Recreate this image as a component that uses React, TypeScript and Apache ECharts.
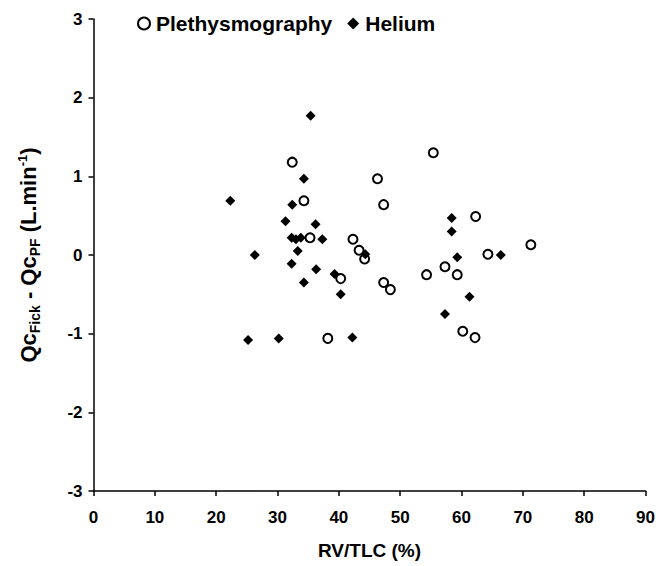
import React, { useEffect, useRef } from "react";
import * as echarts from "echarts";

const plethX = [32.4, 34.3, 35.3, 38.2, 40.3, 42.3, 43.3, 44.2, 46.3, 47.3, 47.3, 48.4, 54.3, 55.4, 57.3, 59.3, 60.2, 62.2, 62.3, 64.3, 71.3];
const plethY = [1.18, 0.69, 0.22, -1.06, -0.30, 0.20, 0.06, -0.05, 0.97, 0.64, -0.35, -0.44, -0.25, 1.30, -0.15, -0.25, -0.97, -1.05, 0.49, 0.01, 0.13];

const heliumX = [22.3, 25.2, 26.3, 30.2, 31.3, 32.4, 32.3, 33.0, 33.8, 33.3, 32.3, 34.3, 34.3, 35.4, 36.2, 36.3, 37.3, 39.3, 40.3, 42.2, 44.3, 57.3, 58.4, 58.4, 59.3, 61.3, 66.4];
const heliumY = [0.69, -1.08, 0.0, -1.06, 0.43, 0.64, 0.22, 0.20, 0.22, 0.05, -0.11, 0.97, -0.35, 1.77, 0.39, -0.18, 0.20, -0.24, -0.50, -1.05, 0.01, -0.75, 0.47, 0.30, -0.03, -0.53, 0.0];

const xTicks = { min: 0, max: 90, interval: 10 };
const yTicks = { min: -3, max: 3, interval: 1 };

const font = "'Liberation Sans', Arial, sans-serif";

export default function App() {
  const ref = useRef<HTMLDivElement>(null);
  useEffect(() => {
    if (!ref.current) return;
    const chart = echarts.init(ref.current, undefined, { renderer: "svg" });
    const pleth = plethX.map((x, i) => [x, plethY[i]]);
    const helium = heliumX.map((x, i) => [x, heliumY[i]]);
    chart.setOption({
      animation: false,
      backgroundColor: "#ffffff",
      textStyle: { fontFamily: font },
      grid: { left: 93.5, right: 9.5, top: 19, bottom: 75 },
      legend: {
        top: 8,
        left: 132,
        itemGap: 15,
        itemWidth: 12,
        itemHeight: 12,
        textStyle: { fontFamily: font, fontWeight: "bold", fontSize: 21, color: "#000", padding: [0, 0, 0, 1] },
        data: [
          { name: "Plethysmography", icon: "circle" },
          { name: "Helium", icon: "diamond" },
        ],
      },
      xAxis: {
        type: "value",
        min: xTicks.min,
        max: xTicks.max,
        interval: xTicks.interval,
        name: "RV/TLC (%)",
        nameLocation: "middle",
        nameGap: 50,
        nameTextStyle: { fontFamily: font, fontWeight: "bold", fontSize: 19, color: "#000" },
        axisLine: { onZero: false, lineStyle: { color: "#000", width: 1.5 } },
        axisTick: { show: true, length: 5, lineStyle: { color: "#000", width: 1.5 } },
        axisLabel: { fontFamily: font, fontWeight: "bold", fontSize: 17, color: "#000", margin: 18 },
        splitLine: { show: false },
      },
      yAxis: {
        type: "value",
        min: yTicks.min,
        max: yTicks.max,
        interval: yTicks.interval,
        name: "{b|Qc}{sub|Fick}{b| - Qc}{sub|PF}{b| (L.min}{sup|-1}{b|)}",
        nameLocation: "middle",
        nameGap: 52,
        nameTextStyle: {
          color: "#000",
          rich: {
            b: { fontFamily: font, fontWeight: "bold", fontSize: 22, color: "#000", lineHeight: 26, verticalAlign: "middle" },
            sub: { fontFamily: font, fontWeight: "bold", fontSize: 14, color: "#000", lineHeight: 26, verticalAlign: "bottom" },
            sup: { fontFamily: font, fontWeight: "bold", fontSize: 13, color: "#000", lineHeight: 26, verticalAlign: "top" },
          },
        },
        axisLine: { onZero: false, lineStyle: { color: "#000", width: 1.5 } },
        axisTick: { show: true, length: 5, lineStyle: { color: "#000", width: 1.5 } },
        axisLabel: { fontFamily: font, fontWeight: "bold", fontSize: 17, color: "#000", margin: 11 },
        splitLine: { show: false },
      },
      series: [
        {
          name: "Plethysmography",
          type: "scatter",
          symbol: "circle",
          symbolSize: 9,
          itemStyle: { color: "#fff", borderColor: "#000", borderWidth: 2, opacity: 1 },
          data: pleth,
          z: 2,
        },
        {
          name: "Helium",
          type: "scatter",
          symbol: "diamond",
          symbolSize: 10,
          itemStyle: { color: "#000", opacity: 1 },
          data: helium,
          z: 3,
        },
      ],
    });
    return () => chart.dispose();
  }, []);
  return <div ref={ref} style={{ width: 658, height: 566, position: "absolute", left: 0, top: 0 }} />;
}
